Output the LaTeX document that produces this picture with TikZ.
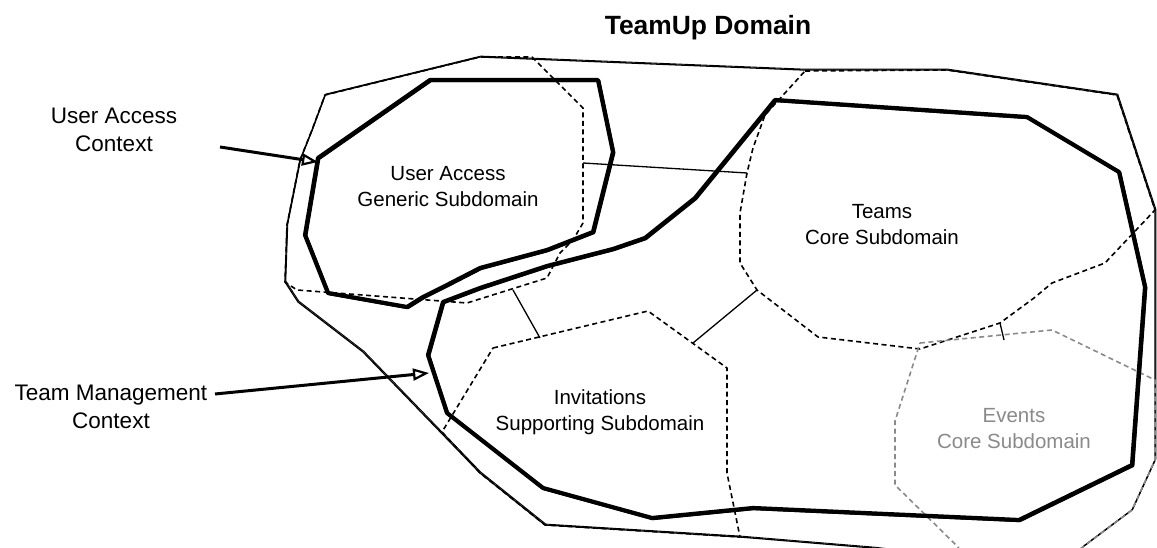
\documentclass[tikz,border=0pt]{standalone}
\usepackage{fontspec}
\setmainfont{Liberation Sans}
\usetikzlibrary{arrows.meta}
\definecolor{evgray}{HTML}{8A8A8A}
\tikzset{
  ctx/.style={line width=4.2pt, line join=round, line cap=round},
  ctxb/.style={line width=3pt, line join=round, line cap=round, shift={(0.9,0.7)}},
  dom/.style={line width=1.3pt, line join=round},
  domb/.style={line width=0.9pt, line join=round, shift={(0.8,-0.9)}},
  sub/.style={line width=1.6pt, dash pattern=on 5pt off 3.5pt, line join=round},
  evsub/.style={sub, draw=evgray},
  link/.style={line width=1.3pt},
  pointer/.style={line width=3pt, -{Triangle[open, length=16pt, width=12pt, line width=2.2pt]}},
  lbl/.style={align=center, font=\fontsize{20.5}{26}\selectfont, inner sep=0pt},
  sidelbl/.style={align=center, font=\fontsize{22.5}{28}\selectfont, inner sep=0pt},
  ttl/.style={font=\fontsize{26.4}{30}\selectfont\bfseries, inner sep=0pt},
}
\newcommand{\outerpath}{(325,95) -- (480,57) -- (803,70) -- (947,70) -- (1117,95) -- (1155,210) -- (1155,460) -- (1132,510) -- (1084,546) -- (1060,566) -- (960,558) -- (873,548) -- (740,537) -- (545,525) -- (480,473) -- (363,352) -- (298,302) -- (285,282) -- (287,225) -- (300,160) -- (312,130) -- cycle}
\newcommand{\uacpath}{(430,80) -- (598,80) -- (613,152) -- (593,232) -- (547,250) -- (480,268) -- (447,285) -- (423,297) -- (407,307) -- (328,293) -- (305,235) -- (318,158) -- cycle}
\newcommand{\tmcpath}{(775,100) -- (1027,117) -- (1119,172) -- (1145,287) -- (1132,465) -- (1019,520) -- (753,508) -- (652,518) -- (543,488) -- (447,413) -- (428,355) -- (443,302) -- (480,288) -- (547,266) -- (613,249) -- (645,238) -- (695,198) -- cycle}
\begin{document}
\begin{tikzpicture}[x=1pt,y=-1pt]
\useasboundingbox (0,0) rectangle (1157,548);
\begin{scope}
\clip (0,0) rectangle (1157,548);
% outer domain
\draw[dom] \outerpath;
\draw[domb] \outerpath;
% subdomains (dashed)
\draw[sub] (532,57) -- (583,108) -- (583,223) -- (573,240) -- (560,253) -- (547,278) -- (467,303) -- (297,290) -- (285,282) -- (287,225) -- (300,160) -- (312,130) -- (325,95) -- (480,57) -- cycle;
\draw[sub] (805,71) -- (947,70) -- (1117,95) -- (1155,210) -- (1105,263) -- (1052,283) -- (1034,298) -- (1000,323) -- (920,349) -- (818,337) -- (757,290) -- (740,263) -- (740,213) -- (747,173) -- (753,148) -- (765,115) -- cycle;
\draw[sub] (493,348) -- (648,311) -- (727,368) -- (727,473) -- (740,537) -- (545,525) -- (480,473) -- (442,432) -- cycle;
\draw[evsub] (920,343) -- (1052,330) -- (1155,380) -- (1155,460) -- (1132,510) -- (1084,546) -- (1060,566) -- (970,562) -- (957,546) -- (895,485) -- (895,421) -- cycle;
% contexts (thick)
\draw[ctx] \uacpath;
\draw[ctxb] \uacpath;
\draw[ctx] \tmcpath;
\draw[ctxb] \tmcpath;
\end{scope}
% connector ends
\coordinate (uasE) at (583,163);
\coordinate (teamsW) at (747,173);
\coordinate (uasS) at (513,290);
\coordinate (invN) at (540,338);
\coordinate (invNE) at (693,343);
\coordinate (teamsSW) at (757,290);
\coordinate (teamsS) at (1000,323);
\coordinate (eventsN) at (1004,340);
\coordinate (uacTail) at (220,147);
\coordinate (uacHead) at (318,162);
\coordinate (tmcTail) at (215,394);
\coordinate (tmcHead) at (429,373);
\draw[link] (uasE) -- (teamsW);
\draw[link] (uasS) -- (invN);
\draw[link] (invNE) -- (teamsSW);
\draw[link] (teamsS) -- (eventsN);
% labels
\node[ttl] (title) at (708,28) {TeamUp Domain};
\node[lbl] (uas) at (448,187) {User Access\\Generic Subdomain};
\node[lbl] (teams) at (882,225) {Teams\\Core Subdomain};
\node[lbl] (inv) at (600,412) {Invitations\\Supporting Subdomain};
\node[lbl, text=evgray] (events) at (1014,429) {Events\\Core Subdomain};
\node[sidelbl] (uac) at (114,130) {User Access\\Context};
\node[sidelbl] (tmc) at (111,407) {Team Management\\Context};
\draw[pointer] (uacTail) -- (uacHead);
\draw[pointer] (tmcTail) -- (tmcHead);
\end{tikzpicture}
\end{document}
